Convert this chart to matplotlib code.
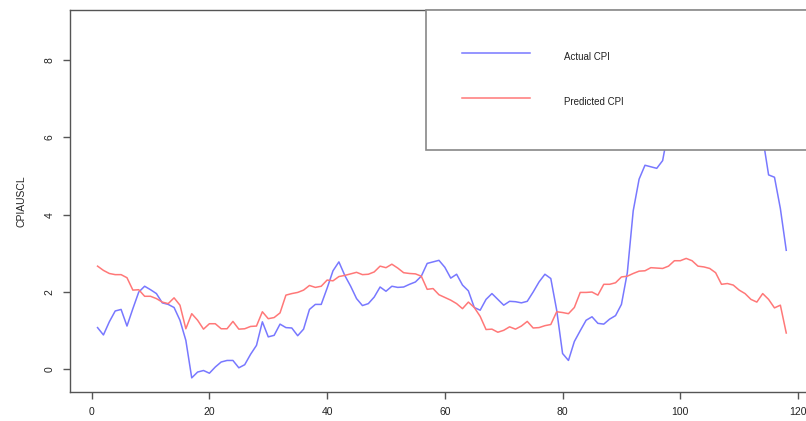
import matplotlib
matplotlib.use("Agg")
import matplotlib.pyplot as plt
import numpy as np

plt.rcParams['font.family'] = ['Liberation Sans', 'DejaVu Sans']

months = list(range(1, 119))
actual_cpi = [1.08, 0.89, 1.23, 1.51, 1.55, 1.12, 1.57, 2.00, 2.15, 2.06,
              1.96, 1.72, 1.68, 1.60, 1.27, 0.75, -0.22, -0.07, -0.03, -0.10,
              0.06, 0.19, 0.23, 0.23, 0.04, 0.12, 0.39, 0.62, 1.23, 0.84,
              0.88, 1.17, 1.08, 1.07, 0.87, 1.04, 1.55, 1.68, 1.68, 2.10,
              2.55, 2.78, 2.43, 2.15, 1.83, 1.65, 1.70, 1.87, 2.13, 2.02,
              2.15, 2.12, 2.13, 2.20, 2.26, 2.41, 2.74, 2.78, 2.82, 2.64,
              2.36, 2.46, 2.18, 2.03, 1.60, 1.53, 1.81, 1.96, 1.81, 1.66,
              1.76, 1.75, 1.72, 1.76, 2.00, 2.26, 2.46, 2.35, 1.53, 0.41,
              0.23, 0.72, 1.00, 1.27, 1.36, 1.19, 1.17, 1.30, 1.39, 1.68,
              2.50, 4.10, 4.92, 5.28, 5.24, 5.20, 5.40, 6.22, 6.81, 7.04,
              7.48, 7.87, 8.52, 8.26, 8.58, 8.93, 8.48, 8.25, 8.20, 7.75,
              7.11, 6.45, 6.34, 6.00, 5.03, 4.97, 4.16, 3.08]
predicted_cpi = [2.67, 2.56, 2.48, 2.45, 2.45, 2.37, 2.05, 2.06, 1.89, 1.89,
                 1.83, 1.74, 1.70, 1.85, 1.66, 1.05, 1.44, 1.27, 1.04, 1.18,
                 1.18, 1.05, 1.05, 1.24, 1.04, 1.05, 1.11, 1.12, 1.49, 1.31,
                 1.34, 1.46, 1.92, 1.96, 1.99, 2.05, 2.17, 2.12, 2.15, 2.31,
                 2.29, 2.40, 2.43, 2.47, 2.51, 2.45, 2.46, 2.52, 2.67, 2.63,
                 2.72, 2.62, 2.50, 2.48, 2.47, 2.41, 2.07, 2.09, 1.93, 1.86,
                 1.79, 1.70, 1.57, 1.74, 1.60, 1.37, 1.03, 1.04, 0.96, 1.01,
                 1.10, 1.04, 1.12, 1.24, 1.07, 1.08, 1.13, 1.16, 1.49, 1.47,
                 1.44, 1.60, 1.99, 1.99, 2.00, 1.92, 2.20, 2.20, 2.24, 2.39,
                 2.41, 2.48, 2.54, 2.55, 2.63, 2.62, 2.61, 2.67, 2.81, 2.81,
                 2.87, 2.81, 2.67, 2.65, 2.61, 2.50, 2.20, 2.22, 2.18, 2.05,
                 1.96, 1.81, 1.74, 1.96, 1.81, 1.59, 1.66, 0.94]
x_ticks = [0, 20, 40, 60, 80, 100, 120]
y_ticks = [0, 2, 4, 6, 8]
series_labels = ["Actual CPI", "Predicted CPI"]
y_label = "CPIAUSCL"

W, H = 806, 421
fig = plt.figure(figsize=(W / 100, H / 100), dpi=100)
left_px, top_px, bottom_px, right_px = 70, 10, 392, 813.8
ax = fig.add_axes([left_px / W, 1 - bottom_px / H,
                   (right_px - left_px) / W, (bottom_px - top_px) / H])

axis_col = '#555555'
ax.plot(months, actual_cpi, color='#7878ff', lw=1.1, label=series_labels[0])
ax.plot(months, predicted_cpi, color='#ff7878', lw=1.1, label=series_labels[1])

# R-style 4% axis extension
def r_lim(vals):
    lo, hi = min(vals), max(vals)
    d = hi - lo
    return lo - 0.04 * d, hi + 0.04 * d

ax.set_xlim(r_lim(months))
ax.set_ylim(r_lim(actual_cpi))
ax.set_xticks(x_ticks)
ax.set_yticks(y_ticks)

for sp in ax.spines.values():
    sp.set_color(axis_col)
    sp.set_linewidth(1.0)
ax.tick_params(axis='both', direction='out', length=5, width=1.0,
               color=axis_col, labelsize=7.5, labelcolor='#222222', pad=6)
for lab in ax.get_yticklabels():
    lab.set_rotation(90)
    lab.set_va('center')
ax.set_ylabel(y_label, fontsize=7.5, color='#222222', labelpad=13)

fs = 7
x0 = (426 - left_px) / (right_px - left_px)
leg = ax.legend(loc='upper right', bbox_to_anchor=(x0, 0, 1 - x0, 1),
                mode='expand', borderaxespad=0, fontsize=fs,
                handlelength=7.0, handletextpad=3.5, borderpad=3.7,
                handleheight=3.25, labelspacing=2.3, fancybox=False,
                framealpha=1, edgecolor='#888888')
leg.get_frame().set_linewidth(1.2)
for t in leg.get_texts():
    t.set_color('#222222')

fig.savefig('out.png', dpi=100)
